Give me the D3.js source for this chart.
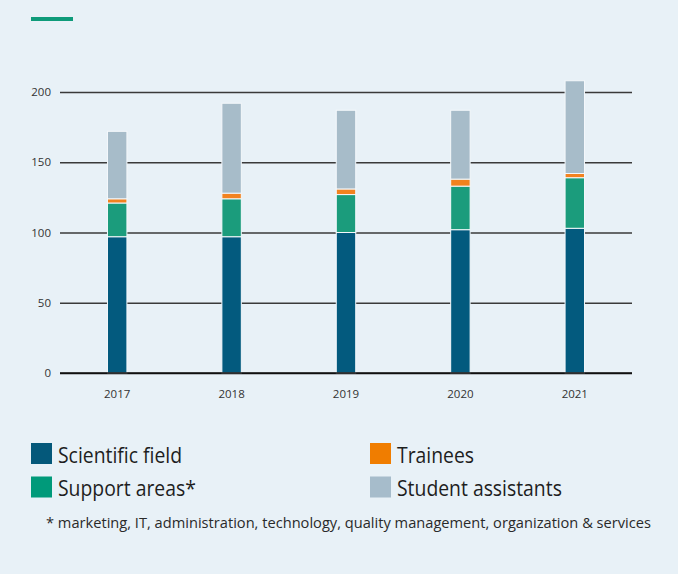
<!DOCTYPE html>
<html>
  <head>
    <meta charset="utf-8">
    <title>Staff development</title>
    <script src="https://cdn.jsdelivr.net/npm/d3@7"></script>
    <style>
      body { margin: 0; background: #fff; }
      svg { display: block; font-family: "Open Sans", "DejaVu Sans", sans-serif; }
    </style>
  </head>

  <body>
    <svg id="chart" width="687" height="574"></svg>

    <script>
      // data
      years = ["2017", "2018", "2019", "2020", "2021"];
      scientific = [97, 97, 100, 102, 103];
      support = [24, 27, 27, 31, 36];
      trainees = [3, 4, 4, 5, 3];
      students = [48, 64, 56, 49, 66];
      yTicks = [0, 50, 100, 150, 200];
      seriesNames = ["Scientific field", "Support areas*", "Trainees", "Student assistants"];
      footnote = "* marketing, IT, administration, technology, quality management, organization & services";

      colours = ["#035a7e", "#1b9c7c", "#f2821f", "#a7bcc9"];
      legendColours = ["#04587a", "#009a7a", "#f07d00", "#a6bccb"];

      svg = d3.select("#chart");
      margin = { top: 92, right: 55, bottom: 201, left: 60 };
      width = 687;
      height = 574;

      rows = years.map(function(y, i) {
        return {
          year: y,
          scientific: scientific[i],
          support: support[i],
          trainees: trainees[i],
          students: students[i]
        };
      });
      keys = ["scientific", "support", "trainees", "students"];
      stacked = d3.stack().keys(keys)(rows);

      x = d3.scaleBand()
        .domain(years)
        .range([margin.left, width - margin.right])
        .paddingInner(0.83)
        .paddingOuter(0.415);
      y = d3.scaleLinear()
        .domain([0, 200])
        .range([height - margin.bottom, margin.top]);

      // panel background (white strip at right edge)
      svg.append("rect")
        .attr("width", 678)
        .attr("height", height)
        .attr("fill", "#e8f1f7");

      // accent line
      svg.append("rect")
        .attr("x", 31)
        .attr("y", 17)
        .attr("width", 42)
        .attr("height", 4)
        .attr("fill", "#0e9b7a");

      // grid
      grid = svg.append("g")
        .attr("transform", "translate(" + margin.left + ",0)")
        .call(d3.axisLeft(y)
          .tickValues(yTicks)
          .tickSize(-(width - margin.right - margin.left))
          .tickPadding(9));
      grid.select(".domain").remove();
      grid.selectAll(".tick line")
        .attr("stroke", function(d) { return d === 0 ? "#111" : "#3a3a3a"; })
        .attr("stroke-width", 1.3);
      grid.selectAll(".tick text")
        .attr("fill", "#333")
        .style("font-size", "11.5px")
        .style("font-family", "'Open Sans', sans-serif");

      // bars
      svg.append("g")
        .selectAll("g")
        .data(stacked)
        .join("g")
          .attr("fill", function(d, i) { return colours[i]; })
        .selectAll("rect")
        .data(function(d) { return d; })
        .join("rect")
          .attr("x", function(d) { return x(d.data.year); })
          .attr("y", function(d) { return y(d[1]); })
          .attr("width", x.bandwidth())
          .attr("height", function(d) { return y(d[0]) - y(d[1]); })
          .attr("stroke", "#f4f8fb")
          .attr("stroke-width", 1);

      // redraw zero line over bars
      svg.append("line")
        .attr("x1", margin.left)
        .attr("x2", width - margin.right)
        .attr("y1", y(0))
        .attr("y2", y(0))
        .attr("stroke", "#111")
        .attr("stroke-width", 1.3);

      // x labels
      xAxis = svg.append("g")
        .attr("transform", "translate(0," + y(0) + ")")
        .call(d3.axisBottom(x).tickSize(0).tickPadding(17));
      xAxis.select(".domain").remove();
      xAxis.selectAll("text")
        .attr("fill", "#333")
        .style("font-size", "11.5px")
        .style("font-family", "'Open Sans', sans-serif");

      // legend
      legend = svg.append("g");
      items = legend.selectAll("g")
        .data(seriesNames)
        .join("g")
          .attr("transform", function(d, i) {
            return "translate(" + (i < 2 ? 31 : 370) + "," + (443 + (i % 2) * 33.5) + ")";
          });
      items.append("rect")
        .attr("width", 21)
        .attr("height", 21)
        .attr("fill", function(d, i) { return legendColours[i]; });
      labels = items.append("text")
        .attr("x", 27)
        .attr("y", 19.5)
        .attr("fill", "#1e1e1e")
        .style("font-size", "21.5px")
        .text(function(d) { return d; });
      // condense labels like the narrow house font
      squeeze = 124 / labels.nodes()[0].getComputedTextLength();
      labels.each(function() {
        d3.select(this)
          .attr("textLength", this.getComputedTextLength() * squeeze)
          .attr("lengthAdjust", "spacingAndGlyphs");
      });

      note = svg.append("text")
        .attr("x", 46)
        .attr("y", 528)
        .attr("fill", "#2a2a2a")
        .style("font-size", "15px")
        .text(footnote);
      note.attr("textLength", 605)
        .attr("lengthAdjust", "spacingAndGlyphs");
    </script>
  </body>
</html>
